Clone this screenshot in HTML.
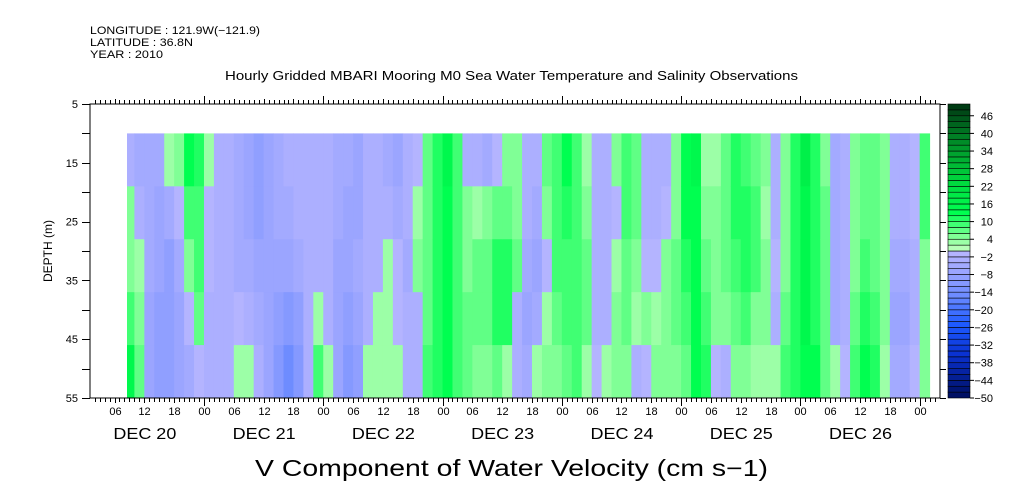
<!DOCTYPE html>
<html><head><meta charset="utf-8">
<style>
body{margin:0;background:#fff;}
svg{display:block;font-family:"Liberation Sans",sans-serif;}
</style></head>
<body>
<svg id="chart" width="1009" height="504" viewBox="0 0 1009 504">
<text x="90" y="34" font-size="11" textLength="170" lengthAdjust="spacingAndGlyphs">LONGITUDE : 121.9W(−121.9)</text>
<text x="90" y="46" font-size="11" textLength="103" lengthAdjust="spacingAndGlyphs">LATITUDE : 36.8N</text>
<text x="90" y="58" font-size="11" textLength="73" lengthAdjust="spacingAndGlyphs">YEAR : 2010</text>
<text x="225" y="80" font-size="13" textLength="573" lengthAdjust="spacingAndGlyphs">Hourly Gridded MBARI Mooring M0 Sea Water Temperature and Salinity Observations</text>
<g id="cells"></g>
<g id="axes"></g>
<g id="cbar"></g>
<text x="52" y="251" font-size="12" text-anchor="middle" transform="rotate(-90 52 251)">DEPTH (m)</text>
<text x="255" y="476" font-size="23" textLength="513" lengthAdjust="spacingAndGlyphs">V Component of Water Velocity (cm s−1)</text>
</svg>
<script>
const startHour = 8;
const stepHours = 2;
const depthEdges = [10, 19, 28, 37, 46, 55];
const values = [
[-4,4,4,8,14],[-5,-3,2,4,6],[-6,-6,-6,-8,-8],[-6,-8,-8,-10,-10],[2,-6,-10,-10,-10],
[4,-2,-6,-8,-8],[12,8,4,-2,-6],[10,8,8,6,-2],[2,-2,-2,-4,-4],[-4,-4,-4,-4,-3],
[-4,-4,-4,-4,-3],[-6,-6,-6,-2,2],[-8,-8,-6,-4,2],[-10,-10,-8,-6,-4],[-8,-8,-8,-8,-8],
[-6,-6,-8,-10,-12],[-4,-6,-8,-12,-16],[-4,-4,-6,-10,-12],[-4,-4,-4,-4,-4],[-4,-4,-4,2,8],
[-4,-4,-4,-4,2],[-6,-6,-8,-8,-8],[-6,-8,-8,-10,-12],[-8,-8,-6,-8,-10],[-4,-4,-4,-4,2],
[-4,-4,-4,2,2],[-6,-4,2,2,2],[-8,-6,-2,-2,2],[-4,-4,-6,-4,-4],[-2,2,4,-4,-4],
[6,6,6,6,8],[10,10,10,10,10],[14,12,12,12,12],[8,8,8,8,8],[-4,4,4,6,6],
[-4,2,6,6,4],[-6,4,6,6,4],[-2,6,10,10,6],[4,6,10,10,2],[4,4,6,-4,-4],
[-4,-4,-6,-8,-6],[-4,-6,-8,-6,2],[6,4,-2,2,4],[8,8,8,6,4],[12,10,8,8,6],
[8,8,8,8,8],[2,4,6,6,2],[-4,-4,-4,-4,-2],[-4,-4,-4,-4,2],[4,-2,2,4,4],
[8,8,6,6,4],[6,6,4,2,-4],[-4,-4,-2,4,-2],[-4,-4,-2,2,4],[-4,-2,4,4,4],
[4,4,6,6,4],[12,12,10,8,6],[14,12,12,12,12],[2,4,6,8,10],[2,4,4,4,-2],
[6,6,6,4,-4],[10,10,8,6,4],[8,10,10,8,4],[6,8,8,4,2],[4,2,4,4,2],
[-4,-4,-2,-4,2],[4,4,4,6,8],[10,10,10,10,10],[16,14,14,14,12],[10,10,10,10,12],
[4,6,6,6,6],[-6,-6,-6,-6,2],[-4,-4,-4,-4,-2],[4,4,4,6,8],[6,6,8,10,12],
[6,6,6,8,10],[4,4,4,4,2],[-4,-4,-6,-8,-6],[-4,-4,-6,-8,-6],[-2,-2,-4,-4,-2],
[8,8,4,4,4]
];
const yTicks = [5,15,25,35,45,55];
const cbarLabels = [46,40,34,28,22,16,10,4,-2,-8,-14,-20,-26,-32,-38,-44,-50];
const dayLabels = ["DEC 20","DEC 21","DEC 22","DEC 23","DEC 24","DEC 25","DEC 26"];

const NS="http://www.w3.org/2000/svg";
const X0=90,X1=940,Y0=104,Y1=398;
const xOf=h=>84.7+4.97*h;
const yOf=d=>104+(d-5)*(294/50);
function mk(tag,attrs,parent){const e=document.createElementNS(NS,tag);for(const k in attrs)e.setAttribute(k,attrs[k]);parent.appendChild(e);return e;}
function lerp(a,b,t){return a.map((v,i)=>Math.round(v+(b[i]-v)*t));}
function ramp(stops,v){if(v<=stops[0][0])return stops[0][1];for(let i=0;i<stops.length-1;i++){if(v<=stops[i+1][0]){const t=(v-stops[i][0])/(stops[i+1][0]-stops[i][0]);return lerp(stops[i][1],stops[i+1][1],t);}}return stops[stops.length-1][1];}
function colorFinal(v){
  let b=Math.floor(v/2)*2+1;
  let c;
  if(b>0)c=ramp([[1,[184,255,184]],[5,[128,255,150]],[13,[0,255,80]],[25,[0,210,60]],[37,[0,140,40]],[49,[0,60,20]]],b);
  else c=ramp([[-49,[0,16,100]],[-35,[10,50,210]],[-25,[30,90,255]],[-15,[110,140,255]],[-7,[155,165,255]],[-1,[180,180,255]]],b);
  return "rgb("+c.join(",")+")";
}
const cells=document.getElementById('cells');
values.forEach((col,i)=>{
  const h0=startHour+i*stepHours;
  let xa=Math.max(xOf(h0),127), xb=Math.min(xOf(h0+stepHours),933);
  col.forEach((v,j)=>{
    const r=mk('rect',{x:xa,y:yOf(depthEdges[j]),width:xb-xa+0.5,height:yOf(depthEdges[j+1])-yOf(depthEdges[j])+0.5,fill:colorFinal(v)},cells);
    
    
  });
});
const ax=document.getElementById('axes');
mk('rect',{x:X0,y:Y0,width:X1-X0,height:Y1-Y0,fill:'none',stroke:'#000','stroke-width':1},ax);
for(let h=2;h<=171;h++){
  const x=Math.round(xOf(h))+0.5;if(x<X0||x>X1)continue;
  const L=(h%24===0)?8:(h%6===0?5:4);
  mk('line',{x1:x,y1:Y1,x2:x,y2:Y1+L,stroke:'#000'},ax);
  mk('line',{x1:x,y1:Y0,x2:x,y2:Y0-L,stroke:'#000'},ax);
  if(h%6===0){
    const t=mk('text',{x:x,y:415,'font-size':11,'text-anchor':'middle'},ax);
    t.textContent=String(h%24).padStart(2,'0');
    
    
  }
}
dayLabels.forEach((d,i)=>{
  const t=mk('text',{x:xOf(i*24+12)-31,y:439,'font-size':16,textLength:63,lengthAdjust:'spacingAndGlyphs'},ax);
  t.textContent=d;
  
  
});
for(let d=5;d<=55;d+=5){
  const y=Math.round(yOf(d))+0.5;
  mk('line',{x1:X0-8,y1:y,x2:X0,y2:y,stroke:'#000'},ax);
  mk('line',{x1:X1,y1:y,x2:X1+6,y2:y,stroke:'#000'},ax);
}
yTicks.forEach(d=>{
  const t=mk('text',{x:78,y:yOf(d)+4,'font-size':11,'text-anchor':'end'},ax);
  t.textContent=d;
  
  
});
const cb=document.getElementById('cbar');
for(let k=0;k<50;k++){
  const v=-50+k*2;
  const y=398-(k+1)*294/50;
  mk('rect',{x:948,y:y,width:22,height:294/50,fill:colorFinal(v+1),stroke:'#000','stroke-width':0.6},cb);
}
cbarLabels.forEach(v=>{
  const y=398-(v+50)*294/100;
  mk('line',{x1:970,y1:y,x2:974,y2:y,stroke:'#000'},cb);
  const t=mk('text',{x:993,y:y+4,'font-size':11,'text-anchor':'end'},cb);
  t.textContent=v<0?'−'+(-v):v;
  
  
});
</script>
</body></html>
